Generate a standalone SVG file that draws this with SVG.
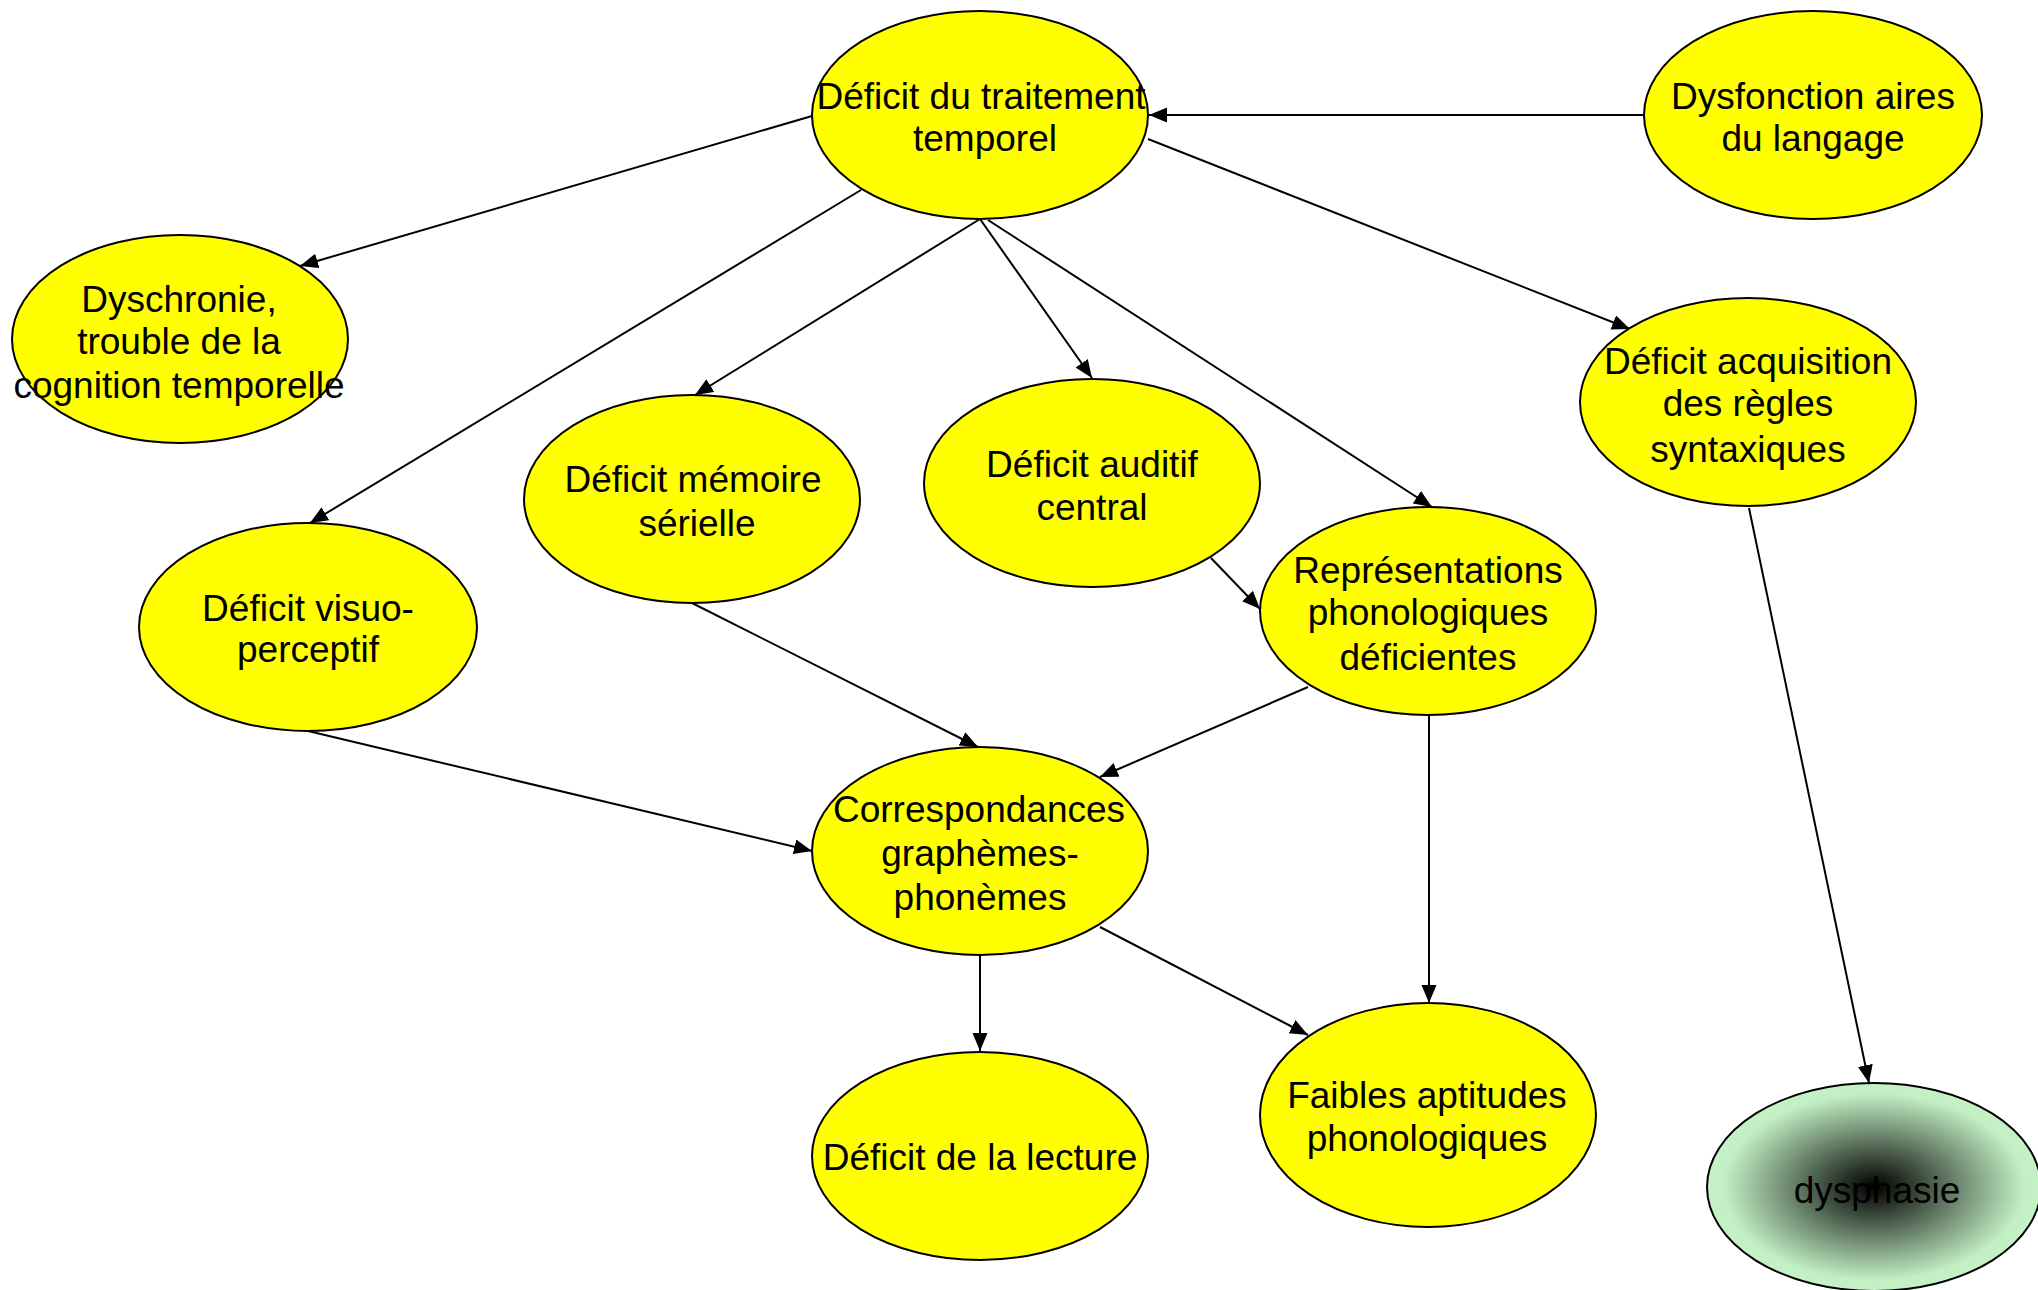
<svg xmlns="http://www.w3.org/2000/svg" width="2038" height="1290" viewBox="0 0 2038 1290">
  <style>
    .node { fill: #ffff00; stroke: #000; stroke-width: 2; }
    .label { font-family: "Liberation Sans", Arial, sans-serif; font-size: 37px; fill: #000; text-anchor: middle; }
    .edge { stroke: #000; stroke-width: 2; fill: none; marker-end: url(#arrow); }
  </style>
  <defs>
    <marker id="arrow" markerUnits="userSpaceOnUse" markerWidth="20" markerHeight="16" refX="18" refY="7.5" orient="auto">
      <path d="M0,0 L18,7.5 L0,15 z" fill="#000"/>
    </marker>
    <radialGradient id="darkCore" cx="0.5" cy="0.5" r="0.5">
      <stop offset="0" stop-color="#000000"/>
      <stop offset="0.9" stop-color="#c2f0c4"/>
      <stop offset="1" stop-color="#c4f2c6"/>
    </radialGradient>
  </defs>

  <rect width="2038" height="1290" fill="#ffffff"/>

  <!-- connectors -->
  <g id="connectors">
    <line class="edge" x1="1644" y1="115" x2="1149" y2="115"/>
    <line class="edge" x1="812" y1="116" x2="300" y2="266"/>
    <line class="edge" x1="861" y1="190" x2="310" y2="523"/>
    <line class="edge" x1="980" y1="219" x2="695" y2="395"/>
    <line class="edge" x1="980" y1="219" x2="1092" y2="378"/>
    <line class="edge" x1="988" y1="220" x2="1432" y2="507"/>
    <line class="edge" x1="1148" y1="139" x2="1630" y2="329"/>
    <line class="edge" x1="1749" y1="508" x2="1869" y2="1083"/>
    <line class="edge" x1="692" y1="603" x2="978" y2="747"/>
    <line class="edge" x1="1211" y1="558" x2="1260" y2="609"/>
    <line class="edge" x1="1308" y1="687" x2="1100" y2="777"/>
    <line class="edge" x1="308" y1="731" x2="812" y2="851"/>
    <line class="edge" x1="1429" y1="715" x2="1429" y2="1003"/>
    <line class="edge" x1="980" y1="955" x2="980" y2="1051"/>
    <line class="edge" x1="1100" y1="927" x2="1308" y2="1035"/>
  </g>

  <!-- nodes -->
  <g id="n-traitement-temporel">
    <ellipse class="node" cx="980" cy="115" rx="168" ry="104"/>
    <text class="label" x="981" y="109">Déficit du traitement</text>
    <text class="label" x="985" y="151">temporel</text>
  </g>
  <g id="n-aires-langage">
    <ellipse class="node" cx="1813" cy="115" rx="169" ry="104"/>
    <text class="label" x="1813" y="109">Dysfonction aires</text>
    <text class="label" x="1813" y="151">du langage</text>
  </g>
  <g id="n-dyschronie">
    <ellipse class="node" cx="180" cy="339" rx="168" ry="104"/>
    <text class="label" x="179" y="312">Dyschronie,</text>
    <text class="label" x="179" y="354">trouble de la</text>
    <text class="label" x="179" y="398">cognition temporelle</text>
  </g>
  <g id="n-visuo-perceptif">
    <ellipse class="node" cx="308" cy="627" rx="169" ry="104"/>
    <text class="label" x="308" y="621">Déficit visuo-</text>
    <text class="label" x="308" y="662">perceptif</text>
  </g>
  <g id="n-memoire-serielle">
    <ellipse class="node" cx="692" cy="499" rx="168" ry="104"/>
    <text class="label" x="693" y="492">Déficit mémoire</text>
    <text class="label" x="697" y="536">sérielle</text>
  </g>
  <g id="n-auditif-central">
    <ellipse class="node" cx="1092" cy="483" rx="168" ry="104"/>
    <text class="label" x="1092" y="477">Déficit auditif</text>
    <text class="label" x="1092" y="520">central</text>
  </g>
  <g id="n-representations">
    <ellipse class="node" cx="1428" cy="611" rx="168" ry="104"/>
    <text class="label" x="1428" y="583">Représentations</text>
    <text class="label" x="1428" y="625">phonologiques</text>
    <text class="label" x="1428" y="670">déficientes</text>
  </g>
  <g id="n-acquisition-syntaxe">
    <ellipse class="node" cx="1748" cy="402" rx="168" ry="104"/>
    <text class="label" x="1748" y="374">Déficit acquisition</text>
    <text class="label" x="1748" y="416">des règles</text>
    <text class="label" x="1748" y="462">syntaxiques</text>
  </g>
  <g id="n-correspondances">
    <ellipse class="node" cx="980" cy="851" rx="168" ry="104"/>
    <text class="label" x="979" y="822">Correspondances</text>
    <text class="label" x="980" y="866">graphèmes-</text>
    <text class="label" x="980" y="910">phonèmes</text>
  </g>
  <g id="n-lecture">
    <ellipse class="node" cx="980" cy="1156" rx="168" ry="104"/>
    <text class="label" x="980" y="1170">Déficit de la lecture</text>
  </g>
  <g id="n-aptitudes-phonologiques">
    <ellipse class="node" cx="1428" cy="1115" rx="168" ry="112"/>
    <text class="label" x="1427" y="1108">Faibles aptitudes</text>
    <text class="label" x="1427" y="1151">phonologiques</text>
  </g>
  <g id="n-dysphasie">
    <ellipse cx="1874" cy="1187" rx="167" ry="104" fill="url(#darkCore)" stroke="#000" stroke-width="2"/>
    <text class="label" x="1877" y="1203">dysphasie</text>
  </g>
</svg>
